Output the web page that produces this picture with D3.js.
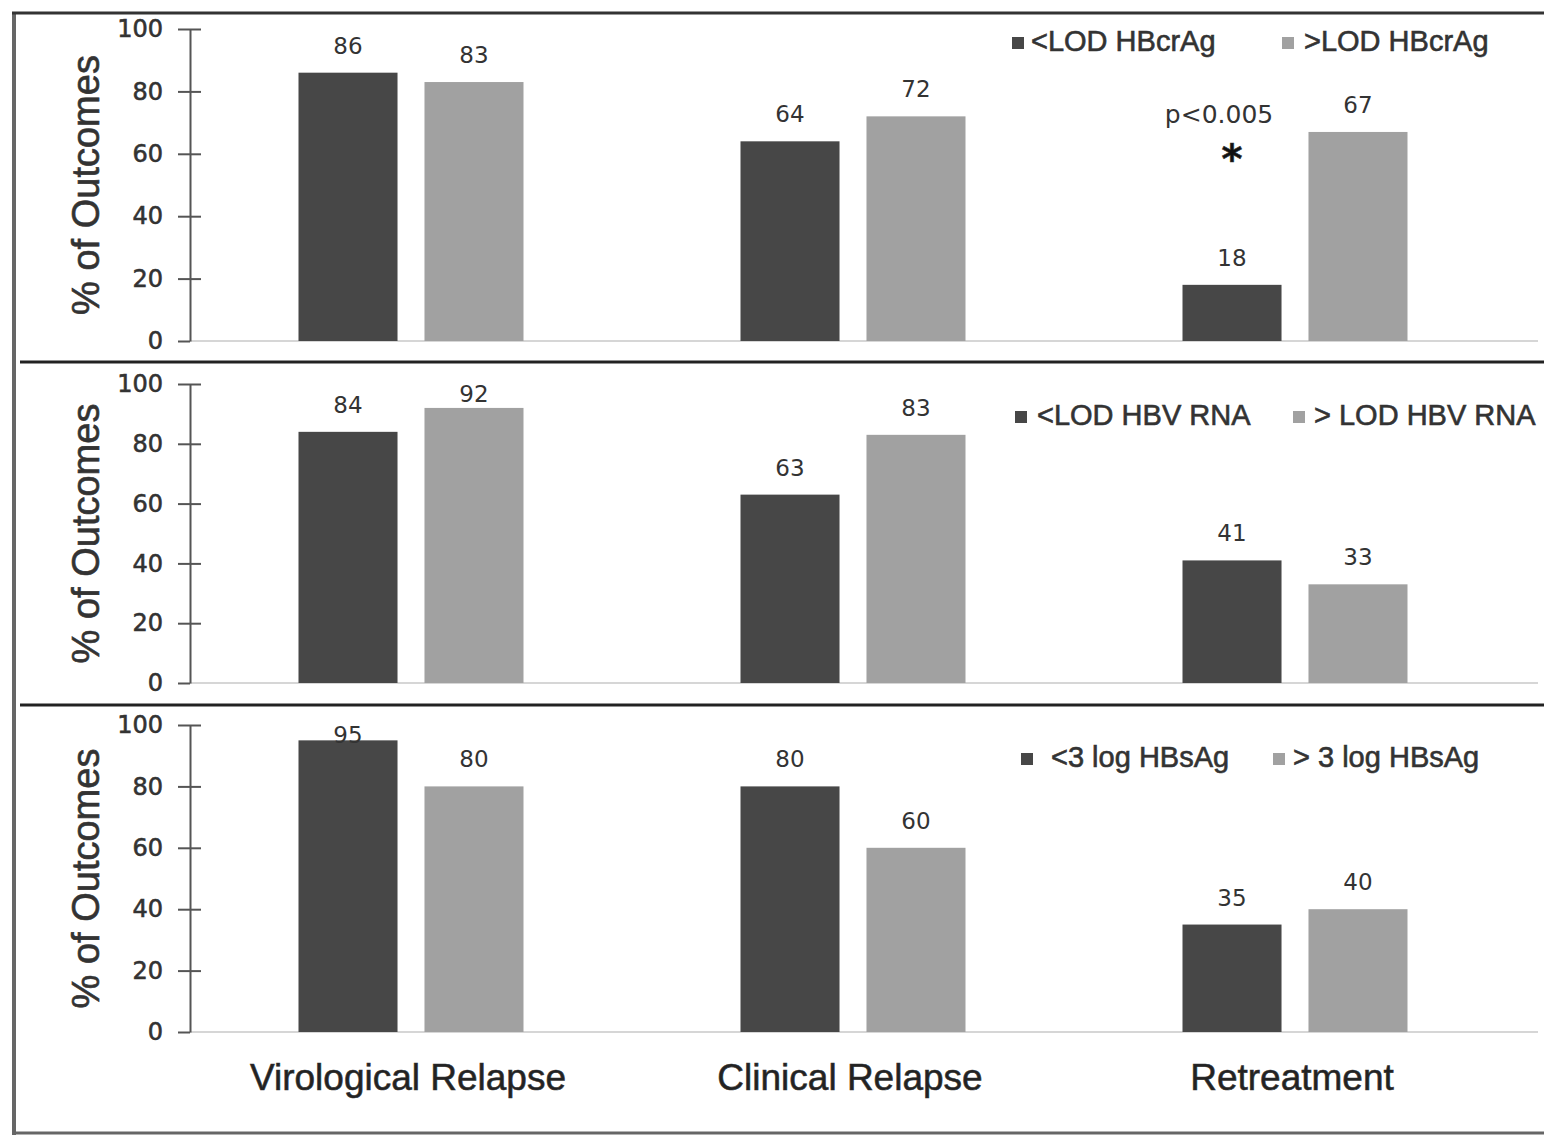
<!DOCTYPE html>
<html>
<head>
<meta charset="utf-8">
<script src="https://cdn.jsdelivr.net/npm/d3@7"></script>
<style>
  body { margin: 0; background: #fff; }
  svg { display: block; }
  .heavy { stroke: #333; stroke-width: 0.6px; }
</style>
</head>
<body>
<div id="chart"></div>
<script>
// categories and values
const categories = ["Virological Relapse", "Clinical Relapse", "Retreatment"];
const hbcrAgBelow = [86, 64, 18];
const hbcrAgAbove = [83, 72, 67];
const rnaBelow = [84, 63, 41];
const rnaAbove = [92, 83, 33];
const hbsAgBelow = [95, 80, 35];
const hbsAgAbove = [80, 60, 40];
const legendLabels = [
  ["<LOD HBcrAg", ">LOD HBcrAg"],
  ["<LOD HBV RNA", "> LOD HBV RNA"],
  ["<3 log HBsAg", "> 3 log HBsAg"]
];
const yTicks = [0, 20, 40, 60, 80, 100];
const seriesColors = ["#474747", "#a1a1a1"];

const width = 1544, height = 1136;
const axisX = 190;

// panel placement (layout only)
const panels = [
  {below: hbcrAgBelow, above: hbcrAgAbove, legend: legendLabels[0], top: 29, bottom: 341,
   legendY: 51, sq: [1012, 1282], tx: [1031, 1304]},
  {below: rnaBelow, above: rnaAbove, legend: legendLabels[1], top: 384, bottom: 683,
   legendY: 425, sq: [1015, 1293], tx: [1037, 1314]},
  {below: hbsAgBelow, above: hbsAgAbove, legend: legendLabels[2], top: 725, bottom: 1032,
   legendY: 767, sq: [1021, 1273], tx: [1051, 1293]}
];

const svg = d3.select("#chart").append("svg")
  .attr("width", width)
  .attr("height", height);

svg.append("rect").attr("width", width).attr("height", height).attr("fill", "#fff");

const x0 = d3.scaleBand().domain(categories).range([axisX, 1516]);
const x1 = d3.scaleBand().domain([0, 1]).range([0, 225]).paddingInner(0.214);
const groupOffset = (x0.bandwidth() - 225) / 2;

panels.forEach((p, i) => {
  const y = d3.scaleLinear().domain([0, 100]).range([p.bottom, p.top]);
  const g = svg.append("g");

  // zero line
  g.append("line")
    .attr("x1", axisX).attr("x2", 1538)
    .attr("y1", y(0)).attr("y2", y(0))
    .attr("stroke", "#d6d6d6").attr("stroke-width", 2);

  // y axis
  const ag = g.append("g")
    .attr("transform", `translate(${axisX},0)`)
    .call(d3.axisLeft(y).tickValues(yTicks).tickSize(12).tickSizeOuter(0).tickPadding(15));
  ag.select(".domain").attr("stroke", "#555").attr("stroke-width", 2);
  ag.selectAll(".tick line")
    .attr("stroke", "#555").attr("stroke-width", 2)
    .attr("x1", d => d === 0 ? 0 : 11).attr("x2", -12);
  ag.selectAll(".tick text")
    .attr("class", "heavy")
    .attr("font-family", "DejaVu Sans").attr("font-size", 24).attr("fill", "#333");

  // axis title
  g.append("text")
    .attr("class", "heavy")
    .attr("transform", `translate(99,${(p.top + p.bottom) / 2}) rotate(-90)`)
    .attr("text-anchor", "middle")
    .attr("font-family", "Liberation Sans, Arial").attr("font-size", 38).attr("fill", "#333")
    .text("% of Outcomes");

  // bars
  const rows = categories.map((c, j) => ({cat: c, vals: [p.below[j], p.above[j]]}));
  const grp = g.selectAll(".grp").data(rows).enter().append("g")
    .attr("transform", d => `translate(${x0(d.cat) + groupOffset},0)`);

  grp.selectAll("rect")
    .data(d => d.vals.map((v, s) => ({v, s})))
    .enter().append("rect")
    .attr("x", d => x1(d.s))
    .attr("width", x1.bandwidth())
    .attr("y", d => y(d.v))
    .attr("height", d => y(0) - y(d.v))
    .attr("fill", d => seriesColors[d.s]);

  grp.selectAll(".val")
    .data(d => d.vals.map((v, s) => ({v, s})))
    .enter().append("text")
    .attr("x", d => x1(d.s) + x1.bandwidth() / 2)
    .attr("y", d => Math.max(y(d.v) - 19, p.top + 18))
    .attr("text-anchor", "middle")
    .attr("font-family", "DejaVu Sans").attr("font-size", 23).attr("fill", "#333")
    .text(d => d.v);

  // legend
  p.legend.forEach((lab, s) => {
    g.append("rect")
      .attr("x", p.sq[s]).attr("y", p.legendY - 14)
      .attr("width", 12).attr("height", 12)
      .attr("fill", seriesColors[s]);
    g.append("text")
      .attr("class", "heavy")
      .attr("x", p.tx[s]).attr("y", p.legendY)
      .attr("font-family", "Liberation Sans, Arial").attr("font-size", 29).attr("fill", "#333")
      .text(lab);
  });

  // significance mark on the first panel
  if (i === 0) {
    const cx = x0("Retreatment") + groupOffset + x1(0) + x1.bandwidth() / 2;
    g.append("text")
      .attr("x", cx - 13).attr("y", y(70))
      .attr("text-anchor", "middle")
      .attr("font-family", "DejaVu Sans").attr("font-size", 25).attr("fill", "#333")
      .text("p<0.005");
    g.append("text")
      .attr("class", "heavy")
      .attr("x", cx).attr("y", y(54))
      .attr("text-anchor", "middle")
      .attr("font-family", "DejaVu Sans").attr("font-weight", "bold").attr("font-size", 40).attr("fill", "#111")
      .text("*");
  }
});

// category labels under the bottom panel
svg.selectAll(".cat").data(categories).enter().append("text")
  .attr("class", "heavy")
  .attr("x", d => x0(d) + x0.bandwidth() / 2 - 3)
  .attr("y", 1090)
  .attr("text-anchor", "middle")
  .attr("font-family", "Liberation Sans, Arial").attr("font-size", 37).attr("fill", "#222")
  .text(d => d);

// frame and panel separators
svg.append("line").attr("x1", 14).attr("x2", 14).attr("y1", 12).attr("y2", 1135)
  .attr("stroke", "#666").attr("stroke-width", 4);
svg.append("line").attr("x1", 12).attr("x2", width).attr("y1", 13).attr("y2", 13)
  .attr("stroke", "#333").attr("stroke-width", 3);
svg.append("line").attr("x1", 12).attr("x2", width).attr("y1", 1133).attr("y2", 1133)
  .attr("stroke", "#666").attr("stroke-width", 3);
[362, 705].forEach(yy => {
  svg.append("line").attr("x1", 20).attr("x2", width).attr("y1", yy).attr("y2", yy)
    .attr("stroke", "#222").attr("stroke-width", 3);
});
</script>
</body>
</html>
